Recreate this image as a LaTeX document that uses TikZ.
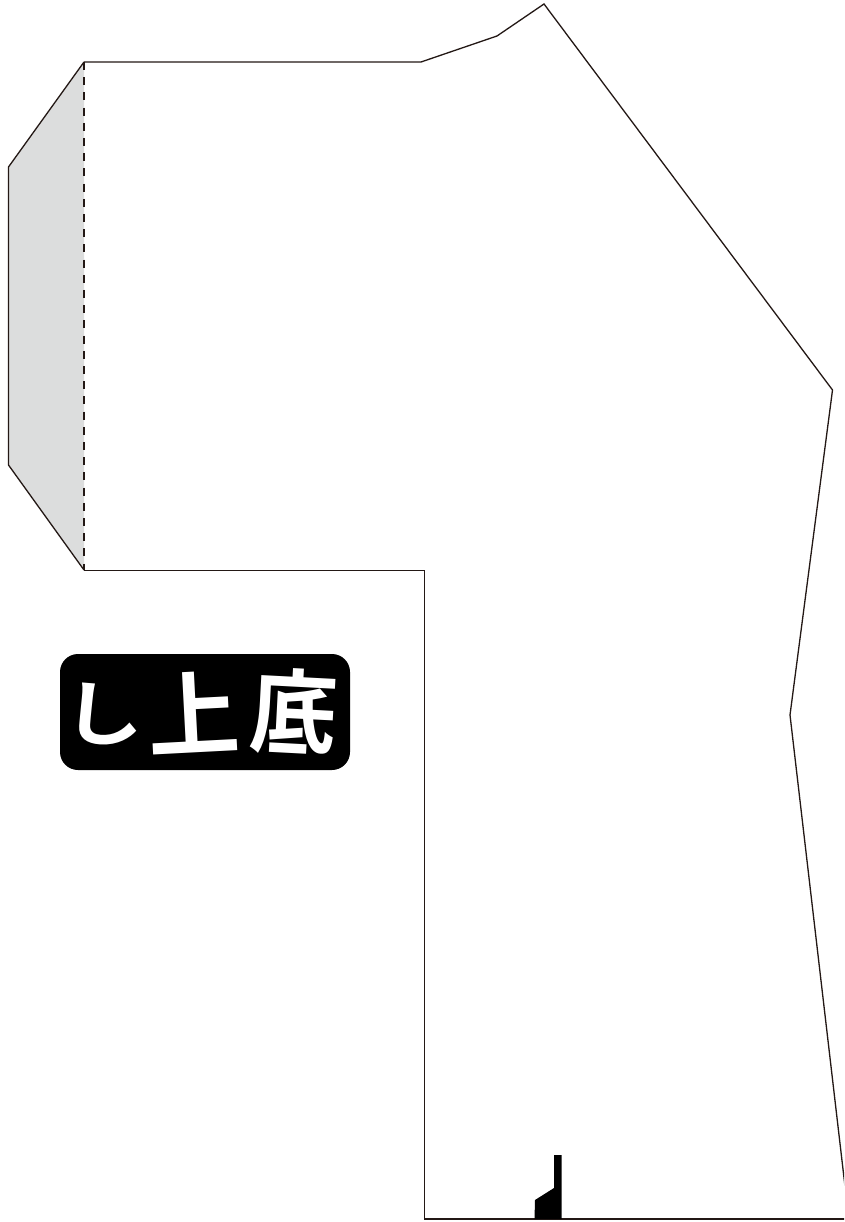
\documentclass[tikz,border=0pt]{standalone}
\usepackage{fontspec}
\newfontfamily\cjkfont[BoldFont={* Bold}]{Noto Sans CJK JP}
\definecolor{foldgray}{HTML}{DCDDDD}
\definecolor{outlinegray}{HTML}{231815}
\tikzset{
  outlineedge/.style={draw=outlinegray,line width=1.3pt,line join=miter},
  foldedge/.style={draw=outlinegray,line width=1.5pt,dash pattern=on 8pt off 7.2pt},
  glyph/.style={text=white,inner sep=0pt,font=\cjkfont\bfseries\fontsize{#1}{#1}\selectfont},
  labelbox/.style={fill=black,rounded corners=18pt}
}
\begin{document}
\begin{tikzpicture}[x=1pt,y=-1pt]
\useasboundingbox (0,0) rectangle (844,1222);
\clip (0,0) rectangle (844,1222);
\fill[white] (0,0) rectangle (844,1222);
% glue flap
\fill[foldgray] (84,62) -- (8.5,167) -- (8.5,465) -- (84,570) -- cycle;
\draw[outlineedge] (84,62) -- (8.5,167) -- (8.5,465) -- (84,570);
% main outline
\draw[outlineedge] (84,570.5) -- (424.5,570.5) -- (424.5,1219) -- (850,1219);
\draw[outlineedge] (846,1195) -- (790,715) -- (832.5,390) -- (544,4) -- (497,36) -- (421,62) -- (84,62);
\draw[foldedge] (84,62) -- (84,570);
% black notch
\fill[black] (534.5,1219) -- (535,1200) -- (554,1188) -- (554,1155) -- (561.5,1155) -- (561.5,1219) -- cycle;
% label
\fill[labelbox] (60,654) rectangle (350,770);
\node[glyph=74,rotate=-4,xscale=1.1,yscale=0.95] (shi) at (104,715) {し};
\node[glyph=92,rotate=3] (ue) at (194,712) {上};
\node[glyph=92,rotate=-3,xscale=0.95] (soko) at (294,712) {底};
\end{tikzpicture}
\end{document}
